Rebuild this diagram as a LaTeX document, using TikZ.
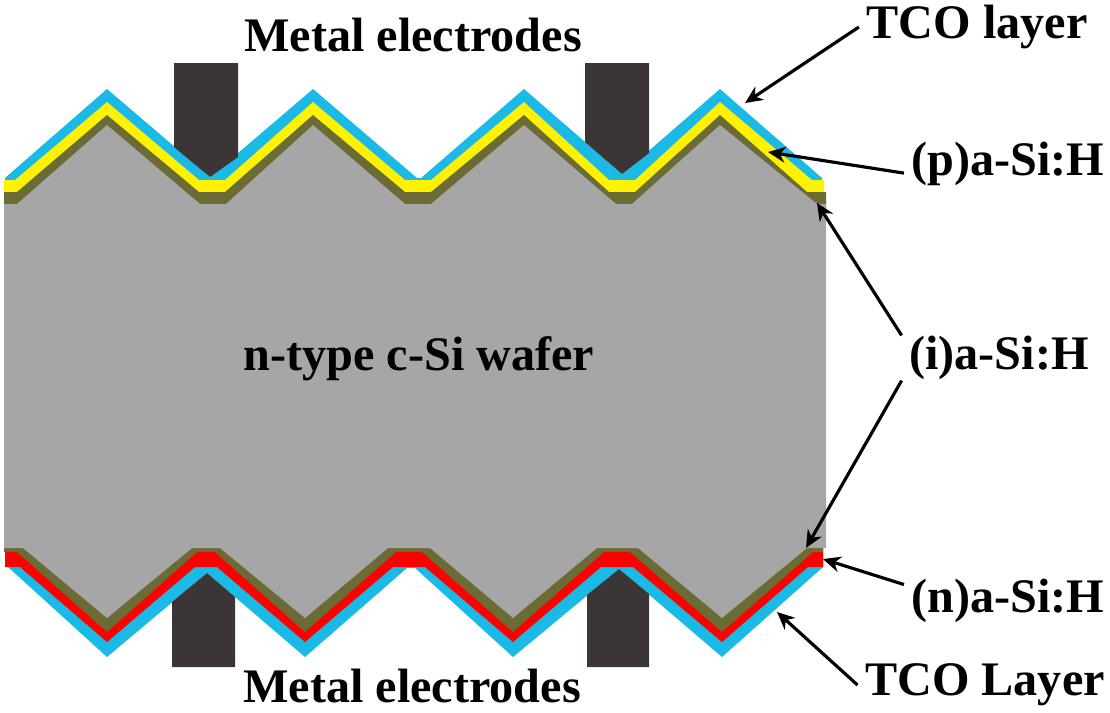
\documentclass[tikz,border=0pt]{standalone}
\usepackage{fontspec}
\setmainfont{Liberation Serif}
\usetikzlibrary{arrows.meta}
\definecolor{tcoblue}{HTML}{1BB9E6}
\definecolor{olivelayer}{HTML}{6B6B35}
\definecolor{wafergray}{HTML}{A6A6A6}
\definecolor{metaldark}{HTML}{3B3536}
\tikzset{
  lbl/.style={font=\bfseries\fontsize{13.7}{16}\selectfont,inner ysep=0pt,inner xsep=2pt},
  arr/.style={-{Stealth[length=5pt,width=4.5pt]},line width=0.9pt,black},
  metal/.style={fill=metaldark}
}
\begin{document}
\begin{tikzpicture}[x=0.01cm,y=-0.01cm]
    \useasboundingbox (0,0) rectangle (1110,712);
    % TCO layers
    \fill[tcoblue] (5,210) -- (5,178) -- (107,89) -- (210,177) -- (313,89) -- (417,178) -- (421,178) -- (524,89)
        -- (622,174) -- (720,89) -- (822,178) -- (822,210) -- cycle;
    \fill[tcoblue] (8,540) -- (8,567) -- (107,657) -- (207,573) -- (305,657) -- (407,568) -- (415,568) -- (513,657)
        -- (619,569) -- (722,657) -- (823,567) -- (823,540) -- cycle;
    % front layers
    \foreach \col/\pk/\vl/\fw/\lx/\rx/\rr in {yellow/102/180/13/15/812/824,olivelayer/115/192/13/17/807/826}{
        \fill[\col] (4,210) -- (4,\vl) -- (\lx,\vl) -- (107,\pk) -- ({212-\fw},\vl) -- ({212+\fw},\vl)
            -- (313,\pk) -- ({418-\fw},\vl) -- ({418+\fw},\vl) -- (524,\pk) -- ({622-\fw},\vl) -- ({622+\fw},\vl)
            -- (720,\pk) -- (\rx,\vl) -- (\rr,\vl) -- (\rr,210) -- cycle;
    }
    % rear layers
    \foreach \col/\pk/\vl/\fwa/\fwb/\le/\lx/\rx in {red/642/567/11/16/5/20/808,olivelayer/632/552/9/13/4/17/813}{
        \fill[\col] (\le,540) -- (\le,\vl) -- (\lx,\vl) -- (107,\pk) -- ({206-\fwa},\vl) -- ({206+\fwa},\vl)
            -- (305,\pk) -- ({409-\fwb},\vl) -- ({409+\fwb},\vl) -- (513,\pk) -- ({617-\fwb},\vl) -- ({617+\fwb},\vl)
            -- (722,\pk) -- (\rx,\vl) -- (823,\vl) -- (823,540) -- cycle;
    }
    % wafer
    \fill[wafergray] (4,204) -- (17,204) -- (107,125) -- (200,204) -- (226,204) -- (313,125) -- (405,204) -- (431,204)
        -- (524,125) -- (616,204) -- (632,204) -- (720,125) -- (817,204) -- (826,204) -- (826,548) -- (807,548)
        -- (722,618) -- (638,548) -- (597,548) -- (513,618) -- (430,548) -- (388,548) -- (305,618) -- (220,548)
        -- (192,548) -- (107,618) -- (23,548) -- (4,548) -- cycle;
    % electrodes
    \fill[metal] (174,63) -- (238,63) -- (238,157) -- (210,177) -- (174,147) -- cycle;
    \fill[metal] (585,63) -- (649,63) -- (649,153) -- (622,174) -- (585,142) -- cycle;
    \fill[metal] (172,667) -- (235,667) -- (235,597) -- (207,573) -- (172,602) -- cycle;
    \fill[metal] (587,667) -- (649,667) -- (649,594) -- (619,569) -- (587,595) -- cycle;
    % labels
    \node[lbl] (mettop) at (413,35) {Metal electrodes};
    \node[lbl] (metbot) at (412,686) {Metal electrodes};
    \node[lbl] (wafer) at (419,359) {n-type c-Si wafer};
    \node[lbl] (tcotop) at (977,27) {TCO layer};
    \node[lbl] (pla) at (1008,164) {(p)a-Si:H};
    \node[lbl] (ila) at (999,358) {(i)a-Si:H};
    \node[lbl] (nla) at (1008,601) {(n)a-Si:H};
    \node[lbl] (tcobot) at (985,685) {TCO Layer};
    % arrow tips
    \coordinate (tcotoptip) at (745,103);
    \coordinate (platip) at (768,152);
    \coordinate (iuptip) at (817,203);
    \coordinate (ilowtip) at (806,548);
    \coordinate (nlatip) at (823,559);
    \coordinate (tcobottip) at (777,612);
    \draw[arr] (tcotop.west) -- (tcotoptip);
    \draw[arr] (pla.185) -- (platip);
    \draw[arr] (ila.north west) -- (iuptip);
    \draw[arr] (ila.south west) -- (ilowtip);
    \draw[arr] (nla.171) -- (nlatip);
    \draw[arr] (tcobot.west) -- (tcobottip);
\end{tikzpicture}
\end{document}
